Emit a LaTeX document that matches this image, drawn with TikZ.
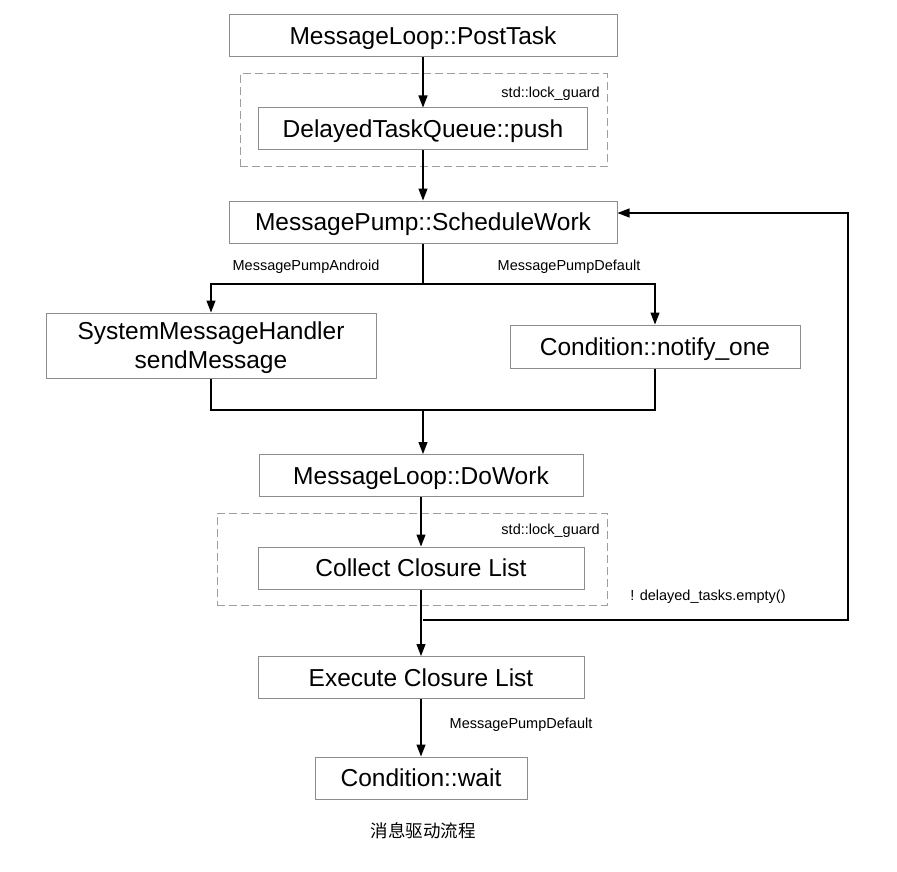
\documentclass[tikz,border=0pt]{standalone}
\usepackage{fontspec}
\setmainfont{Liberation Sans}
\newfontfamily\cjkfont{Noto Sans CJK SC}
\usetikzlibrary{arrows.meta, positioning}
\definecolor{boxgray}{HTML}{8C8C8C}
\definecolor{dashgray}{HTML}{9E9E9E}

\begin{document}
\begin{tikzpicture}[x=1pt, y=-1pt,
  func/.style={rectangle, draw=boxgray, line width=1pt, minimum width=#1, minimum height=42pt, inner sep=0pt, text depth=0pt, font=\fontsize{24.5}{27}\selectfont, align=center},
  guard/.style={rectangle, draw=dashgray, line width=1pt, dash pattern=on 8pt off 4pt, inner sep=0pt},
  tag/.style={font=\fontsize{14.5}{16}\selectfont, inner sep=0pt},
  arr/.style={-{Triangle[length=12pt, width=9pt]}, line width=1.2pt},
  link/.style={line width=1.2pt},
]
  \useasboundingbox (0,0) rectangle (897,872);

  % lock_guard regions
  \node[guard, minimum width=367pt, minimum height=93pt] (lock1) at (423.5,120.5) {};
  \node[guard, minimum width=390pt, minimum height=92pt] (lock2) at (412,559) {};
  \node[tag, anchor=east] (lock1lbl) at (600,94) {std::lock\_guard};
  \node[tag, anchor=east] (lock2lbl) at (600,531) {std::lock\_guard};

  % main flow
  \node[func=388pt] (post) at (423,36) {MessageLoop::PostTask};
  \node[func=329pt] (push) at (423,129) {DelayedTaskQueue::push};
  \node[func=388pt] (sched) at (423,222) {MessagePump::ScheduleWork};
  \node[func=330pt, minimum height=65pt] (smh) at (211,345.5) {SystemMessageHandler\\[2pt]sendMessage};
  \node[func=290pt, minimum height=43pt] (notify) at (655,346.5) {Condition::notify\_one};
  \node[func=324pt] (dowork) at (421,475.5) {MessageLoop::DoWork};
  \node[func=326pt] (collect) at (421,568) {Collect Closure List};
  \node[func=326pt] (exec) at (421,677.5) {Execute Closure List};
  \node[func=212pt] (wait) at (421,778) {Condition::wait};

  \node[tag] (andlbl) at (306,267) {MessagePumpAndroid};
  \node[tag] (deflbl) at (569,267) {MessagePumpDefault};
  \node[tag] (emptylbl) at (708,597) {! delayed\_tasks.empty()};
  \node[tag] (waitlbl) at (521,725) {MessagePumpDefault};
  \node[font=\cjkfont\fontsize{17.5}{20}\selectfont] (caption) at (423,831) {消息驱动流程};

  \coordinate (fork) at (423,284);
  \coordinate (join) at (423,410);
  \coordinate (loop) at (423,620);
  \coordinate (back) at (848,620);

  \draw[arr] (post) -- (push);
  \draw[arr] (push) -- (sched);
  \draw[link] (sched.south -| fork) -- (fork);
  \draw[arr] (fork) -| (smh.north);
  \draw[arr] (fork) -| (notify.north);
  \draw[link] (smh.south) |- (join);
  \draw[link] (notify.south) |- (join);
  \draw[arr] (join) -- (dowork.north -| join);
  \draw[arr] (dowork) -- (collect);
  \draw[arr] (collect) -- (exec);
  \draw[arr] (loop) -- (back) |- ([yshift=9pt]sched.east);
  \draw[arr] (exec) -- (wait);
\end{tikzpicture}
\end{document}
